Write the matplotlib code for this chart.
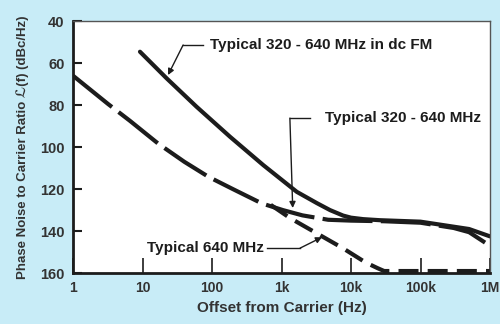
import numpy as np
import matplotlib.pyplot as plt

# curve values (offset in Hz, dBc/Hz)
f_wide = [1, 3.2, 6.6, 16.9, 40, 88.5, 200, 520, 1050, 2000, 4700, 10000, 30000,
          100000, 300000, 500000, 1e6]
l_wide = [66, 79.5, 87.5, 98.4, 107, 114.1, 120, 126.8, 130, 132.5, 134.6, 135, 135.3,
          136, 138.5, 140.5, 147]

f_dcfm = [9.2, 22.3, 60, 182, 548, 1660, 3240, 5000, 7700, 10000, 15000, 26000,
          100000, 500000, 1e6]
l_dcfm = [54.6, 67.3, 80.8, 95.1, 108.6, 121.3, 126.7, 130, 132.6, 133.6, 134.3, 134.8,
          135.5, 139, 142.5]

f_640 = [700, 1330, 3200, 7700, 16000, 24000, 30000, 1e6]
l_640 = [127.5, 133.8, 141, 148.2, 154.8, 157.6, 159, 159]

xticks = [1, 10, 100, 1e3, 1e4, 1e5, 1e6]
xlabels = ['1', '10', '100', '1k', '10k', '100k', '1M']
yticks = [40, 60, 80, 100, 120, 140, 160]

ink = '#1c1c1c'
grey = '#333333'
plt.rcParams['font.family'] = ['Liberation Sans', 'DejaVu Sans']
plt.rcParams['font.weight'] = 'bold'

fig = plt.figure(figsize=(5, 3.24), dpi=100, facecolor='#c8ecf7')
ax = fig.add_axes([0.146, 0.157, 0.834, 0.778])
ax.set_facecolor('white')

ax.plot(f_wide, l_wide, color=ink, lw=3, dashes=(12, 2), solid_capstyle='butt')
ax.plot(f_dcfm, l_dcfm, color=ink, lw=3, solid_capstyle='round', solid_joinstyle='round')
ax.plot(f_640, l_640, color=ink, lw=3, dashes=(4.8, 2.2), clip_on=False)

ax.set_xscale('log')
ax.set_xlim(1, 1e6)
ax.set_ylim(160, 40)
ax.set_xticks(xticks)
ax.set_xticklabels(xlabels)
ax.set_yticks(yticks)
ax.minorticks_off()
ax.tick_params(axis='x', direction='in', length=11, width=1.2, pad=6,
               labelsize=10, labelcolor=grey, color=ink)
ax.tick_params(axis='y', direction='in', length=6.5, width=1.5, pad=6,
               labelsize=10.5, labelcolor=grey, color=ink)

for s in ['left', 'bottom']:
    ax.spines[s].set_linewidth(2)
    ax.spines[s].set_color(ink)
for s in ['top', 'right']:
    ax.spines[s].set_linewidth(1)
    ax.spines[s].set_color('#555555')

ax.set_xlabel('Offset from Carrier (Hz)', fontsize=11, fontweight='bold',
              color=grey, labelpad=4)
ax.set_ylabel('Phase Noise to Carrier Ratio ℒ(f) (dBc/Hz)', fontsize=9.5,
              fontweight='bold', color=grey, labelpad=8)

# annotations with leader lines
arrow = dict(arrowstyle='-|>', lw=1, color=ink, mutation_scale=9, shrinkA=0, shrinkB=0)

ax.text(94, 51.4, 'Typical 320 - 640 MHz in dc FM', fontsize=11, color=ink, va='center')
ax.plot([74, 38.4], [51.4, 51.4], color=ink, lw=1)
ax.annotate('', xy=(23.3, 65.7), xytext=(38.4, 51.4), arrowprops=arrow)

ax.text(4200, 86.2, 'Typical 320 - 640 MHz', fontsize=11, color=ink, va='center')
ax.plot([2560, 1320], [86.2, 86.2], color=ink, lw=1)
ax.annotate('', xy=(1450, 129), xytext=(1320, 86.2), arrowprops=arrow)

ax.text(560, 148.1, 'Typical 640 MHz', fontsize=11, color=ink, va='center', ha='right',
        bbox=dict(facecolor='white', edgecolor='none', pad=0.5))
ax.plot([620, 1850], [148.1, 148.1], color=ink, lw=1)
ax.annotate('', xy=(3830, 142.9), xytext=(1850, 148.1), arrowprops=arrow)

fig.savefig('out.png', dpi=100, facecolor=fig.get_facecolor())
